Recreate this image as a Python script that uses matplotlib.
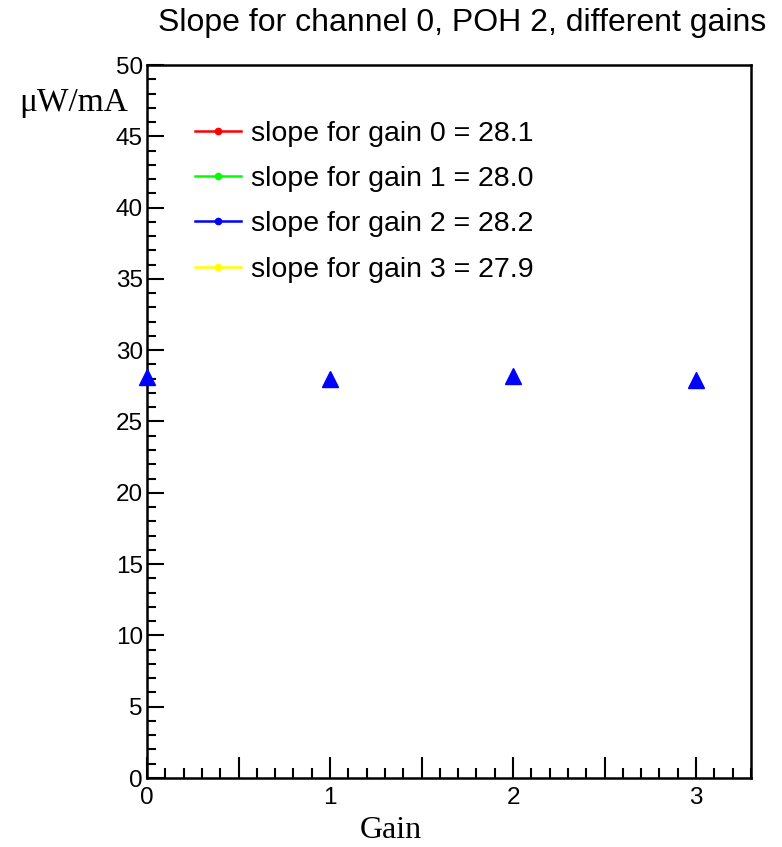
import matplotlib
matplotlib.use("Agg")
import matplotlib.pyplot as plt
from matplotlib.lines import Line2D
from matplotlib.ticker import MultipleLocator, FuncFormatter

gains = [0, 1, 2, 3]
slopes = [28.1, 28.0, 28.2, 27.9]
legend_colors = ['#ff0000', '#00ff00', '#0000ff', '#ffff00']
legend_labels = [f"slope for gain {g} = {s:.1f}" for g, s in zip(gains, slopes)]

fig = plt.figure(figsize=(7.82, 8.47), dpi=100)
ax = fig.add_axes([147/782, 1-778/847, (751-147)/782, (778-65)/847])

ax.plot(gains, slopes, linestyle='none', marker='^', color='#0000ff', markersize=11, clip_on=False, zorder=5)

ax.set_xlim(0, 3.3)
ax.set_ylim(0, 50)

ax.xaxis.set_major_locator(MultipleLocator(0.5))
ax.xaxis.set_minor_locator(MultipleLocator(0.1))
ax.xaxis.set_major_formatter(FuncFormatter(lambda v, p: f"{int(round(v))}" if abs(v - round(v)) < 1e-6 else ""))
ax.yaxis.set_major_locator(MultipleLocator(5))
ax.yaxis.set_minor_locator(MultipleLocator(1))

sans = ['Liberation Sans', 'DejaVu Sans']
serif = ['Liberation Serif', 'DejaVu Serif']
ax.tick_params(axis='both', which='both', direction='in', top=False, right=False, width=1.5)
ax.tick_params(axis='x', which='major', length=15, pad=6.5)
ax.tick_params(axis='x', which='minor', length=7.5)
ax.tick_params(axis='y', which='major', length=12, pad=3)
ax.tick_params(axis='y', which='minor', length=6.5)
for lab in ax.get_xticklabels() + ax.get_yticklabels():
    lab.set_fontfamily(sans)
    lab.set_fontsize(17.5)
for s in ax.spines.values():
    s.set_linewidth(1.8)

fig.text(462/782, 1-23/847, "Slope for channel 0, POH 2, different gains", ha='center', va='center',
         fontsize=23, family=sans)
fig.text(74/782, 1-103/847, "\u03bcW/mA", ha='center', va='center', fontsize=24, family=serif)
fig.text(391/782, 1-830/847, "Gain", ha='center', va='center', fontsize=23, family=serif)

handles = [Line2D([], [], color=c, marker='o', markersize=4.5, linewidth=1.8) for c in legend_colors]
leg = ax.legend(handles, legend_labels, loc='upper left', bbox_to_anchor=(0.0795, 0.922), frameon=False,
                borderpad=0, borderaxespad=0,
                prop={'family': sans, 'size': 20.5}, handlelength=1.6, handletextpad=0.36, labelspacing=0.68)

fig.savefig("out.png", dpi=100)
